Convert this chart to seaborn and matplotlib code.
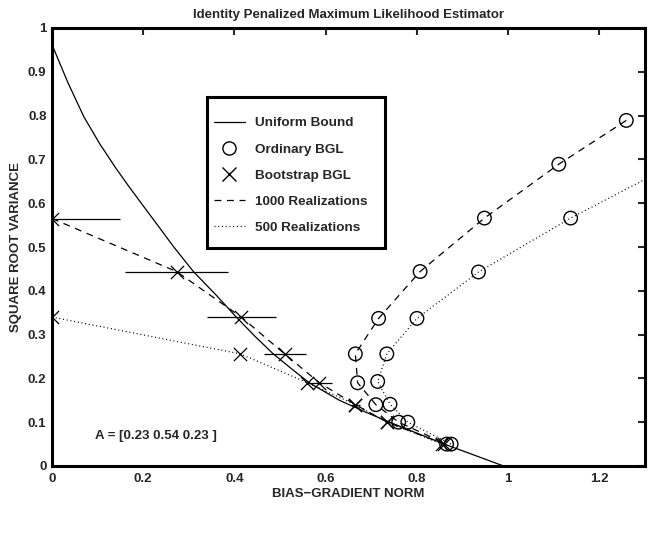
import matplotlib
matplotlib.use("Agg")
import matplotlib.pyplot as plt
from matplotlib.lines import Line2D
from matplotlib.patches import Rectangle
import seaborn as sns

# ---- data ----
bound_x = [0.0, 0.035, 0.07, 0.105, 0.14, 0.17, 0.2, 0.235, 0.267, 0.31, 0.36, 0.404,
           0.445, 0.484, 0.525, 0.564, 0.63, 0.69, 0.74, 0.80, 0.86, 0.92, 0.99]
bound_y = [0.962, 0.875, 0.797, 0.735, 0.680, 0.636, 0.594, 0.545, 0.50, 0.444, 0.39, 0.34,
           0.296, 0.257, 0.222, 0.19, 0.15, 0.122, 0.10, 0.075, 0.05, 0.027, 0.0]

# Bootstrap BGL
boot1000_x = [0.0, 0.273, 0.415, 0.51, 0.586, 0.665, 0.735, 0.86]
boot1000_y = [0.565, 0.444, 0.34, 0.256, 0.19, 0.14, 0.10, 0.05]
boot1000_xerr = [0.15, 0.112, 0.075, 0.046, 0.028, 0.01, 0.006, 0.004]
boot500_x = [0.0, 0.413, 0.56, 0.665, 0.735, 0.855]
boot500_y = [0.34, 0.256, 0.19, 0.14, 0.10, 0.05]

# Ordinary BGL
ord1000_x = [1.259, 1.111, 0.948, 0.807, 0.716, 0.665, 0.67, 0.71, 0.76, 0.865]
ord1000_y = [0.789, 0.689, 0.566, 0.444, 0.337, 0.256, 0.19, 0.14, 0.10, 0.05]
ord500_x = [1.55, 1.36, 1.137, 0.935, 0.80, 0.734, 0.714, 0.741, 0.78, 0.875]
ord500_y = [0.79, 0.687, 0.566, 0.443, 0.337, 0.256, 0.193, 0.141, 0.10, 0.05]

xticks = [0, 0.2, 0.4, 0.6, 0.8, 1.0, 1.2]
xtick_labels = ["0", "0.2", "0.4", "0.6", "0.8", "1", "1.2"]
yticks = [0, 0.1, 0.2, 0.3, 0.4, 0.5, 0.6, 0.7, 0.8, 0.9, 1.0]
ytick_labels = ["0", "0.1", "0.2", "0.3", "0.4", "0.5", "0.6", "0.7", "0.8", "0.9", "1"]

legend_labels = ["Uniform Bound", "Ordinary BGL", "Bootstrap BGL", "1000 Realizations",
                 "500 Realizations"]

sns.set_style("white")
plt.rcParams['font.family'] = ['Liberation Sans', 'DejaVu Sans']
plt.rcParams['font.weight'] = 'bold'

fig = plt.figure(figsize=(6.48, 5.33), dpi=100)
# axes: left 52px, right 645px, top 28px, bottom 466px
ax = fig.add_axes([52 / 648, 1 - 466 / 533, 593 / 648, 438 / 533])

lw = 0.9
dash = (0, (5.5, 4.5))
dot = (0, (0.8, 2.2))

sns.lineplot(x=bound_x, y=bound_y, ax=ax, sort=False, color='k', lw=lw, estimator=None)
sns.lineplot(x=boot1000_x, y=boot1000_y, ax=ax, sort=False, color='k', lw=lw,
             linestyle=dash, estimator=None)
sns.lineplot(x=boot500_x, y=boot500_y, ax=ax, sort=False, color='k', lw=lw,
             linestyle=dot, estimator=None)
sns.lineplot(x=ord1000_x, y=ord1000_y, ax=ax, sort=False, color='k', lw=lw,
             linestyle=dash, estimator=None)
sns.lineplot(x=ord500_x, y=ord500_y, ax=ax, sort=False, color='k', lw=lw,
             linestyle=dot, estimator=None)

ax.errorbar(boot1000_x, boot1000_y, xerr=boot1000_xerr, fmt='none', ecolor='k',
            elinewidth=lw, capsize=0, clip_on=True)

sns.scatterplot(x=boot1000_x + boot500_x, y=boot1000_y + boot500_y, ax=ax,
                marker='x', s=90, color='k', linewidth=0.9, clip_on=True)
sns.scatterplot(x=ord1000_x + ord500_x, y=ord1000_y + ord500_y, ax=ax,
                marker='o', s=95, facecolor='none', edgecolor='k', linewidth=1.0,
                clip_on=True)

ax.set_xlim(0, 1.3)
ax.set_ylim(0, 1)
ax.set_xticks(xticks)
ax.set_xticklabels(xtick_labels)
ax.set_yticks(yticks)
ax.set_yticklabels(ytick_labels)
ax.tick_params(direction='in', length=5, width=1.5, top=True, right=True,
               labelsize=9.5)
ax.tick_params(axis='x', pad=5)
ax.tick_params(axis='y', pad=4)
for lab in ax.get_xticklabels() + ax.get_yticklabels():
    lab.set_fontweight('bold')
for sp in ax.spines.values():
    sp.set_linewidth(2.2)
    sp.set_color('k')

ax.set_title("Identity Penalized Maximum Likelihood Estimator", fontsize=9.5,
             fontweight='bold', pad=7.5)
ax.set_xlabel("BIAS\u2212GRADIENT NORM", fontsize=9.5, fontweight='bold', labelpad=2)
ax.set_ylabel("SQUARE ROOT VARIANCE", fontsize=9.5, fontweight='bold', labelpad=4)

ax.text(0.095, 0.068, "A = [0.23 0.54 0.23 ]", fontsize=9.5, fontweight='bold',
        va='center', ha='left')

# legend box (frame drawn separately)
box = Rectangle((0.261, 0.497), 0.3006, 0.346, transform=ax.transAxes,
                facecolor='white', edgecolor='k', linewidth=2.2, zorder=4)
ax.add_patch(box)

handles = [
    Line2D([], [], color='k', lw=lw),
    Line2D([], [], color='k', marker='o', ms=9.5, mfc='none', lw=0),
    Line2D([], [], color='k', marker='x', ms=9.5, lw=0),
    Line2D([], [], color='k', lw=lw, linestyle=dash),
    Line2D([], [], color='k', lw=lw, linestyle=dot),
]
leg = ax.legend(handles, legend_labels, loc='upper left',
                bbox_to_anchor=(0.273, 0.797),
                frameon=False, borderpad=0, labelspacing=1.02, handlelength=2.3,
                handletextpad=0.75, borderaxespad=0,
                prop={'weight': 'bold', 'size': 9.7,
                      'family': ['Liberation Sans', 'DejaVu Sans']})
leg.set_zorder(5)

fig.savefig("out.png", dpi=100)
